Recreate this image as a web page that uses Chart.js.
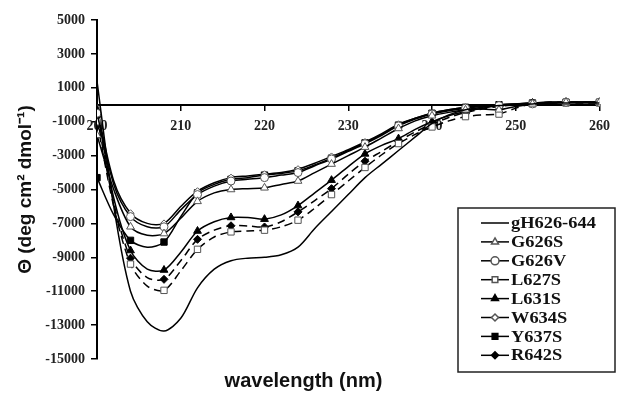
<!DOCTYPE html>
<html>
<head>
<meta charset="utf-8">
<script src="https://cdn.jsdelivr.net/npm/chart.js@4.4.1/dist/chart.umd.min.js"></script>
<style>
  html, body { margin: 0; padding: 0; background: #fff; }
  #wrap { width: 618px; height: 393px; }
</style>
</head>
<body>
<div id="wrap"><canvas id="cd" width="618" height="393"></canvas></div>
<script>
// wavelength grid (nm), markers every 4 nm
const wavelength = [200, 202, 204, 206, 208, 210, 212, 214, 216, 218, 220, 222, 224, 226, 228, 230,
                    232, 234, 236, 238, 240, 242, 244, 246, 248, 250, 252, 254, 256, 258, 260];
const xTicks = [200, 210, 220, 230, 240, 250, 260];
const yTicks = [-15000, -13000, -11000, -9000, -7000, -5000, -3000, -1000, 1000, 3000, 5000];

const gH626_644 = [1400, -6000, -11000, -12800, -13350, -12600, -10800, -9700, -9200, -9050, -9000, -8850, -8400, -7300, -6300, -5300,
                   -4300, -3500, -2700, -1900, -1100, -600, -300, -150, -50, 0, 50, 100, 100, 100, 100];
const G626S = [-1800, -5000, -7200, -7700, -7600, -6700, -5700, -5200, -5000, -4950, -4900, -4700, -4500, -4000, -3500, -3000,
               -2500, -1950, -1400, -950, -650, -450, -300, -250, -300, -100, 50, 100, 150, 150, 150];
const G626V = [-500, -4700, -6600, -7200, -7200, -6200, -5300, -4800, -4500, -4400, -4300, -4150, -4000, -3600, -3200, -2750,
               -2300, -1800, -1250, -850, -550, -350, -200, -100, -50, 0, 50, 100, 150, 150, 150];
const L627S = [-1000, -6000, -9400, -10700, -10950, -9800, -8530, -7800, -7500, -7450, -7400, -7200, -6810, -6100, -5300, -4500,
               -3700, -2950, -2290, -1750, -1310, -950, -700, -600, -550, -200, 50, 100, 100, 100, 100];
const L631S = [-300, -5500, -8600, -9700, -9750, -8700, -7450, -6900, -6650, -6650, -6750, -6500, -5950, -5200, -4450, -3650,
               -2900, -2400, -2000, -1450, -1000, -650, -400, -200, -50, 50, 100, 150, 150, 150, 150];
const W634S = [-200, -4500, -6400, -7000, -7000, -6000, -5100, -4600, -4300, -4200, -4100, -4000, -3800, -3450, -3050, -2650,
               -2200, -1700, -1150, -800, -500, -300, -150, -50, 0, 50, 100, 150, 150, 150, 150];
const Y637S = [-4300, -6500, -8000, -8400, -8100, -6600, -5200, -4700, -4400, -4300, -4150, -4050, -3900, -3550, -3150, -2700,
               -2250, -1750, -1200, -800, -500, -300, -150, -50, 0, 50, 100, 150, 150, 150, 150];
const R642S = [-700, -5800, -9050, -10200, -10300, -9200, -7940, -7400, -7140, -7150, -7210, -6900, -6320, -5650, -4950, -4100,
               -3330, -2750, -2150, -1600, -1150, -750, -450, -250, -100, 0, 100, 150, 150, 150, 150];

const xy = arr => arr.map((v, i) => ({ x: wavelength[i], y: v }));
const markR = r => ctx => (wavelength[ctx.dataIndex] % 4 === 0 ? r : 0);

function series(label, values, style, fill, r, dashed) {
  return {
    label: label,
    data: xy(values),
    borderColor: '#000',
    borderWidth: 1.5,
    borderDash: dashed ? [8, 5] : [],
    tension: 0.3,
    pointStyle: style,
    pointRadius: style ? markR(r) : 0,
    pointBackgroundColor: fill,
    pointBorderColor: fill === '#fff' ? '#555' : '#000',
    pointBorderWidth: 1
  };
}

const datasets = [
  series('gH626-644', gH626_644, false, '#000', 0, false),
  series('G626S', G626S, 'triangle', '#fff', 4.5, false),
  series('G626V', G626V, 'circle', '#fff', 4, false),
  series('L627S', L627S, 'rect', '#fff', 4.5, true),
  series('L631S', L631S, 'triangle', '#000', 4.5, false),
  series('W634S', W634S, 'rectRot', '#fff', 3.5, false),
  series('Y637S', Y637S, 'rect', '#000', 4.5, false),
  series('R642S', R642S, 'rectRot', '#000', 4, true)
];

const serif = '"Liberation Serif", "Times New Roman", serif';

// legend drawn in a framed box inside the plot, like the original figure
const boxLegend = {
  id: 'boxLegend',
  afterDraw(chart) {
    const ctx = chart.ctx;
    const bx = 458, by = 208, bw = 157, bh = 164;
    ctx.save();
    ctx.setLineDash([]);
    ctx.fillStyle = '#fff';
    ctx.fillRect(bx, by, bw, bh);
    ctx.strokeStyle = '#222';
    ctx.lineWidth = 1.5;
    ctx.strokeRect(bx, by, bw, bh);
    chart.data.datasets.forEach((ds, i) => {
      const y = 223 + i * 18.9;
      ctx.strokeStyle = '#000';
      ctx.lineWidth = 1.5;
      ctx.beginPath();
      ctx.moveTo(481, y);
      ctx.lineTo(509, y);
      ctx.stroke();
      if (ds.pointStyle) {
        ctx.fillStyle = ds.pointBackgroundColor;
        ctx.strokeStyle = ds.pointBorderColor;
        Chart.helpers.drawPoint(ctx, {
          pointStyle: ds.pointStyle, rotation: 0,
          radius: ds.pointStyle === 'rectRot' ? 3.5 : 4, borderWidth: 1
        }, 495, y);
      }
      ctx.save();
      ctx.translate(511, y);
      ctx.scale(1.15, 1);
      ctx.fillStyle = '#111';
      ctx.font = 'bold 16px ' + serif;
      ctx.textBaseline = 'middle';
      ctx.fillText(ds.label, 0, 1);
      ctx.restore();
    });
    ctx.restore();
  }
};

new Chart(document.getElementById('cd').getContext('2d'), {
  type: 'line',
  data: { datasets: datasets },
  options: {
    responsive: false,
    animation: false,
    layout: { padding: { top: 20, right: 11, left: 0, bottom: 0 } },
    scales: {
      x: {
        type: 'linear',
        min: 200, max: 260,
        position: { y: 0 },
        afterBuildTicks: s => { s.ticks = xTicks.map(v => ({ value: v })); },
        grid: { drawOnChartArea: false, drawTicks: true, tickLength: 5, color: '#000', lineWidth: 1.5 },
        border: { color: '#000', width: 2 },
        ticks: {
          color: '#222', padding: 8, maxRotation: 0,
          font: { family: serif, size: 14, weight: 'bold' },
          callback: v => String(v)
        }
      },
      y: {
        min: -15000, max: 5000,
        afterBuildTicks: s => { s.ticks = yTicks.map(v => ({ value: v })); },
        afterFit: s => { s.width = 97; },
        grid: { drawOnChartArea: false, drawTicks: true, tickLength: 6, color: '#000', lineWidth: 1.5 },
        border: { color: '#000', width: 2 },
        ticks: {
          color: '#222', padding: 6,
          font: { family: serif, size: 14, weight: 'bold' },
          callback: v => String(v)
        },
        title: {
          display: true,
          text: 'Θ (deg cm² dmol⁻¹)',
          color: '#111',
          padding: { top: 14, bottom: 0 },
          font: { family: '"Liberation Sans", Arial, sans-serif', size: 19, weight: 'bold' }
        }
      }
    },
    plugins: {
      legend: { display: false },
      tooltip: { enabled: false },
      title: {
        display: true,
        position: 'bottom',
        text: 'wavelength (nm)',
        color: '#111',
        padding: { top: 10, bottom: 0 },
        font: { family: '"Liberation Sans", Arial, sans-serif', size: 20, weight: 'bold' }
      }
    }
  },
  plugins: [boxLegend]
});
</script>
</body>
</html>
